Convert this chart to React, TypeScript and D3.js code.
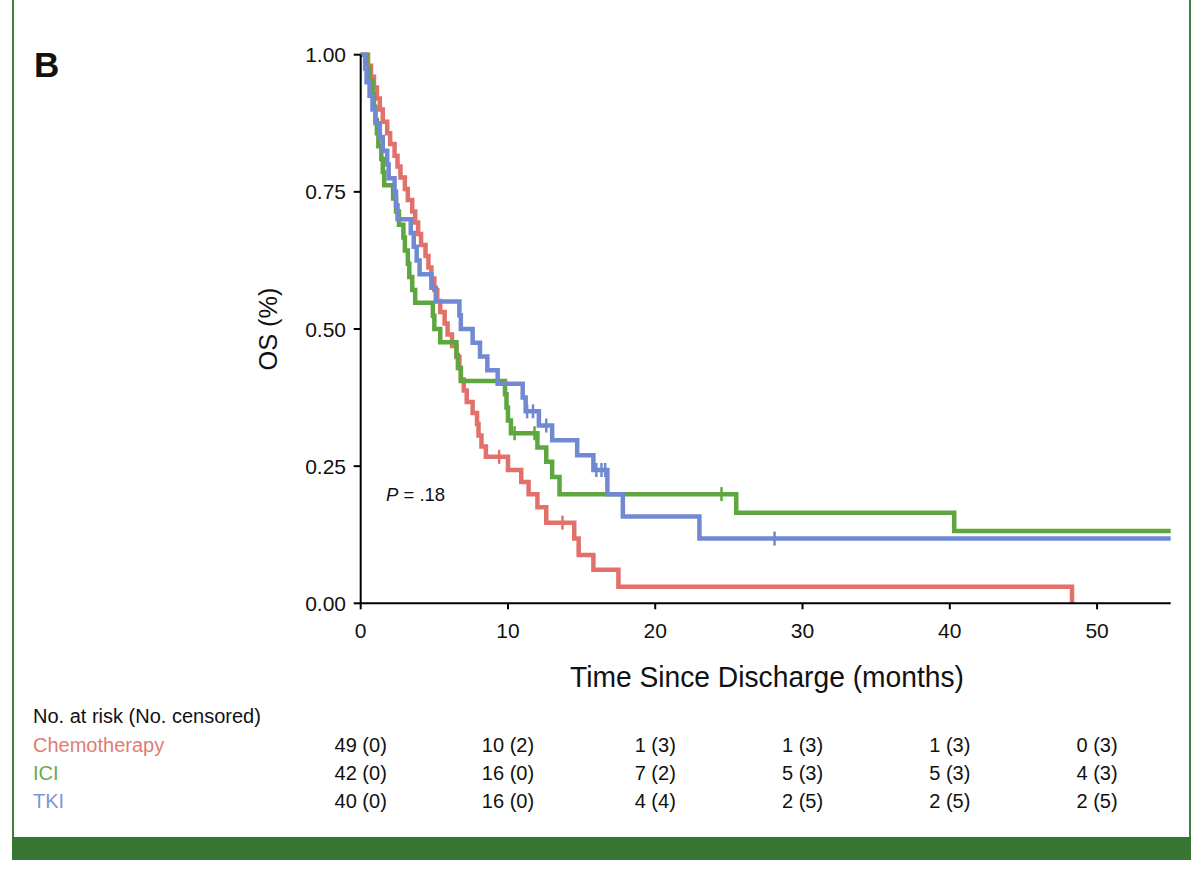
import * as d3 from "d3";

// Kaplan-Meier steps: time of event (months) and survival after it
const chemoTimes = [0.5, 0.7, 0.9, 1.1, 1.3, 1.5, 1.8, 2.0, 2.3, 2.5, 2.7, 3.0, 3.2, 3.5, 3.7, 3.9, 4.1, 4.4, 4.6, 4.8, 5.0, 5.2, 5.4, 5.7, 5.9, 6.2, 6.5, 6.7, 6.8, 7.0, 7.2, 7.6, 7.9, 8.0, 8.2, 8.5, 10.0, 10.9, 11.4, 12.0, 12.6, 14.5, 14.8, 15.8, 17.5, 48.3];
const chemoSurv = [0.98, 0.96, 0.94, 0.92, 0.9, 0.878, 0.857, 0.837, 0.816, 0.796, 0.776, 0.755, 0.735, 0.714, 0.694, 0.673, 0.653, 0.633, 0.612, 0.592, 0.571, 0.551, 0.531, 0.51, 0.49, 0.469, 0.449, 0.429, 0.408, 0.388, 0.367, 0.347, 0.327, 0.306, 0.286, 0.267, 0.243, 0.221, 0.199, 0.175, 0.147, 0.118, 0.088, 0.061, 0.03, 0];
const chemoCensor = [9.4, 13.7];
const chemoEnd = 48.3;

const iciTimes = [0.4, 0.6, 0.8, 0.9, 1.0, 1.1, 1.2, 1.4, 1.5, 1.6, 2.2, 2.4, 2.6, 2.9, 3.0, 3.2, 3.3, 3.5, 3.7, 4.9, 5.0, 5.4, 6.5, 6.6, 6.8, 9.8, 9.9, 10.0, 10.2, 12.0, 12.6, 13.0, 13.5, 25.5, 40.3];
const iciSurv = [0.976, 0.952, 0.929, 0.905, 0.881, 0.857, 0.833, 0.81, 0.786, 0.762, 0.738, 0.714, 0.69, 0.667, 0.643, 0.619, 0.595, 0.571, 0.548, 0.524, 0.5, 0.476, 0.452, 0.429, 0.405, 0.381, 0.357, 0.333, 0.31, 0.284, 0.258, 0.23, 0.199, 0.165, 0.132];
const iciCensor = [10.45, 11.8, 24.5];
const iciEnd = 55;

const tkiTimes = [0.3, 0.4, 0.6, 0.8, 1.0, 1.3, 1.5, 1.8, 1.9, 2.3, 2.4, 2.5, 3.4, 3.6, 3.8, 4.0, 4.8, 5.1, 6.7, 6.8, 7.6, 8.1, 8.6, 9.3, 11.0, 11.2, 12.1, 13.0, 14.7, 15.8, 16.75, 17.8, 23.0];
const tkiSurv = [0.975, 0.95, 0.925, 0.9, 0.875, 0.85, 0.825, 0.8, 0.775, 0.75, 0.725, 0.7, 0.675, 0.65, 0.625, 0.6, 0.575, 0.55, 0.525, 0.5, 0.475, 0.45, 0.425, 0.4, 0.375, 0.35, 0.324, 0.297, 0.27, 0.243, 0.199, 0.158, 0.118];
const tkiCensor = [11.3, 11.7, 12.6, 16.0, 16.35, 16.6, 28.1];
const tkiEnd = 55;

const groupNames = ["Chemotherapy", "ICI", "TKI"];
const groupColors = ["#e1716a", "#5ea63e", "#7189d3"];
const labelColors = ["#e07c74", "#6aab48", "#8093d8"];

const riskTimes = [0, 10, 20, 30, 40, 50];
const chemoRisk = ["49 (0)", "10 (2)", "1 (3)", "1 (3)", "1 (3)", "0 (3)"];
const iciRisk = ["42 (0)", "16 (0)", "7 (2)", "5 (3)", "5 (3)", "4 (3)"];
const tkiRisk = ["40 (0)", "16 (0)", "4 (4)", "2 (5)", "2 (5)", "2 (5)"];

const xTicks = [0, 10, 20, 30, 40, 50];
const yTicks = [0, 0.25, 0.5, 0.75, 1];

const FONT = "'Liberation Sans', Arial, sans-serif";

export default function App() {
  const x = d3.scaleLinear().domain([0, 55]).range([360.7, 1170.7]);
  const y = d3.scaleLinear().domain([0, 1]).range([603.3, 54.7]);

  const groups = [
    { times: chemoTimes, surv: chemoSurv, censor: chemoCensor, end: chemoEnd, risk: chemoRisk },
    { times: iciTimes, surv: iciSurv, censor: iciCensor, end: iciEnd, risk: iciRisk },
    { times: tkiTimes, surv: tkiSurv, censor: tkiCensor, end: tkiEnd, risk: tkiRisk },
  ];

  const line = d3
    .line<[number, number]>()
    .x((d) => x(d[0]))
    .y((d) => y(d[1]))
    .curve(d3.curveStepAfter);

  // survival value at time t (step function)
  const survAt = (times: number[], surv: number[], t: number) => {
    let s = 1;
    times.forEach((tt, i) => {
      if (tt <= t) s = surv[i];
    });
    return s;
  };

  const rowY = [752, 780, 808];

  return (
    <svg
      width={1200}
      height={873}
      style={{ position: "absolute", left: 0, top: 0, background: "#fff" }}
      fontFamily={FONT}
    >
      {/* frame */}
      <line x1={13} x2={13} y1={0} y2={838} stroke="#3f8039" strokeWidth={2} />
      <line x1={1190} x2={1190} y1={0} y2={838} stroke="#3f8039" strokeWidth={2} />
      <rect x={12} y={837} width={1179} height={23} fill="#367532" />

      <text x={34} y={77} fontSize={35} fontWeight="bold" fill="#111">
        B
      </text>

      {/* curves */}
      {groups.map((g, i) => {
        const pts: [number, number][] = [[0, 1]];
        g.times.forEach((t, k) => pts.push([t, g.surv[k]]));
        const last = g.surv[g.surv.length - 1];
        if (g.end > g.times[g.times.length - 1]) pts.push([g.end, last]);
        return (
          <g key={groupNames[i]}>
            <path d={line(pts) ?? ""} fill="none" stroke={groupColors[i]} strokeWidth={4.5} />
            {g.censor.map((c) => {
              const s = survAt(g.times, g.surv, c);
              return (
                <line
                  key={c}
                  x1={x(c)}
                  x2={x(c)}
                  y1={y(s) - 7}
                  y2={y(s) + 7}
                  stroke={groupColors[i]}
                  strokeWidth={2.5}
                />
              );
            })}
          </g>
        );
      })}

      {/* axes */}
      <line x1={x(0)} x2={x(0)} y1={y(1)} y2={y(0)} stroke="#000" strokeWidth={2} />
      <line x1={x(0) - 1} x2={x(55)} y1={y(0)} y2={y(0)} stroke="#000" strokeWidth={2} />
      {yTicks.map((t) => (
        <g key={t}>
          <line x1={x(0) - 7} x2={x(0)} y1={y(t)} y2={y(t)} stroke="#000" strokeWidth={2} />
          <text x={346} y={y(t) + 7.5} fontSize={21} textAnchor="end" fill="#111">
            {t.toFixed(2)}
          </text>
        </g>
      ))}
      {xTicks.map((t) => (
        <g key={t}>
          <line x1={x(t)} x2={x(t)} y1={y(0)} y2={y(0) + 6} stroke="#000" strokeWidth={2} />
          <text x={x(t)} y={638} fontSize={21} textAnchor="middle" fill="#111">
            {t}
          </text>
        </g>
      ))}

      <text
        x={767}
        y={687}
        fontSize={29}
        textAnchor="middle"
        fill="#111"
        textLength={394}
        lengthAdjust="spacingAndGlyphs"
      >
        Time Since Discharge (months)
      </text>
      <text
        transform="translate(277,329) rotate(-90)"
        fontSize={26}
        textAnchor="middle"
        fill="#111"
        textLength={83}
        lengthAdjust="spacingAndGlyphs"
      >
        OS (%)
      </text>

      <text x={386} y={501} fontSize={18.5} fill="#111">
        <tspan fontStyle="italic">P</tspan> = .18
      </text>

      {/* risk table */}
      <text x={33} y={723} fontSize={20} fill="#111">
        No. at risk (No. censored)
      </text>
      {groups.map((g, i) => (
        <g key={"r" + i}>
          <text x={33} y={rowY[i]} fontSize={20} fill={labelColors[i]}>
            {groupNames[i]}
          </text>
          {g.risk.map((r, k) => (
            <text key={k} x={x(riskTimes[k])} y={rowY[i]} fontSize={20} textAnchor="middle" fill="#111">
              {r}
            </text>
          ))}
        </g>
      ))}
    </svg>
  );
}
